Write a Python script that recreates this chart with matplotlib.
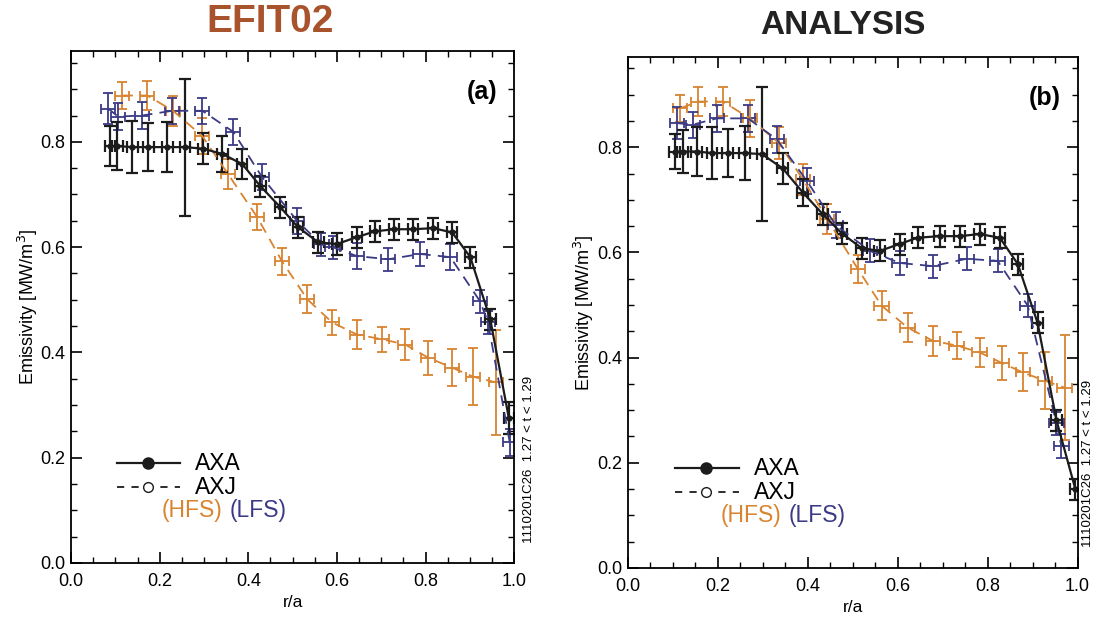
import matplotlib
matplotlib.use("Agg")
import matplotlib.pyplot as plt
from matplotlib.ticker import MultipleLocator
from matplotlib.lines import Line2D

plt.rcParams['font.family'] = ['Liberation Sans', 'DejaVu Sans']

BLACK = '#1c1c1c'
BLUE = '#3b3a85'
ORANGE = '#d88430'

# ---- panel (a) EFIT02 ----
a_axa_x = [0.088, 0.104, 0.138, 0.174, 0.217, 0.257, 0.298, 0.341, 0.386, 0.427, 0.472, 0.512,
           0.558, 0.600, 0.645, 0.686, 0.729, 0.772, 0.817, 0.860, 0.901, 0.946, 0.988]
a_axa_y = [0.792, 0.792, 0.790, 0.790, 0.790, 0.790, 0.787, 0.777, 0.758, 0.716, 0.676, 0.638,
           0.609, 0.606, 0.619, 0.630, 0.634, 0.634, 0.636, 0.628, 0.581, 0.463, 0.275]
a_axa_err = [0.038, 0.045, 0.050, 0.045, 0.048, 0.130, 0.030, 0.035, 0.028, 0.020, 0.020, 0.020,
             0.020, 0.020, 0.020, 0.020, 0.020, 0.020, 0.020, 0.020, 0.020, 0.020, 0.030]

a_lfs_x = [0.084, 0.106, 0.160, 0.228, 0.296, 0.366, 0.431, 0.510, 0.565, 0.590, 0.645, 0.716,
           0.788, 0.856, 0.923, 0.941, 0.990]
a_lfs_y = [0.863, 0.848, 0.850, 0.859, 0.859, 0.819, 0.733, 0.650, 0.605, 0.600, 0.583, 0.577,
           0.587, 0.581, 0.497, 0.457, 0.229]
a_lfs_err = [0.030, 0.025, 0.025, 0.025, 0.025, 0.025, 0.025, 0.025, 0.022, 0.022, 0.025, 0.022,
             0.022, 0.025, 0.022, 0.022, 0.025]

a_hfs_x = [0.115, 0.172, 0.230, 0.296, 0.354, 0.420, 0.476, 0.533, 0.589, 0.645, 0.702, 0.754,
           0.806, 0.860, 0.907, 0.959]
a_hfs_y = [0.888, 0.888, 0.859, 0.811, 0.739, 0.657, 0.573, 0.501, 0.457, 0.434, 0.425, 0.415,
           0.390, 0.371, 0.354, 0.343]
a_hfs_err = [0.025, 0.027, 0.029, 0.035, 0.029, 0.025, 0.025, 0.027, 0.024, 0.027, 0.024, 0.029,
             0.032, 0.035, 0.054, 0.100]

# ---- panel (b) ANALYSIS ----
b_axa_x = [0.104, 0.122, 0.153, 0.187, 0.222, 0.260, 0.298, 0.344, 0.389, 0.433, 0.476, 0.520,
           0.560, 0.604, 0.644, 0.693, 0.738, 0.782, 0.827, 0.867, 0.911, 0.953, 0.995]
b_axa_y = [0.792, 0.792, 0.792, 0.789, 0.789, 0.789, 0.787, 0.760, 0.714, 0.673, 0.636, 0.608,
           0.603, 0.616, 0.628, 0.631, 0.631, 0.635, 0.628, 0.578, 0.466, 0.281, 0.150]
b_axa_err = [0.033, 0.040, 0.047, 0.050, 0.045, 0.052, 0.128, 0.030, 0.025, 0.020, 0.020, 0.020,
             0.020, 0.020, 0.020, 0.020, 0.020, 0.020, 0.020, 0.020, 0.020, 0.020, 0.020]

b_lfs_x = [0.109, 0.144, 0.198, 0.267, 0.331, 0.398, 0.462, 0.538, 0.604, 0.678, 0.753, 0.822,
           0.889, 0.953, 0.964]
b_lfs_y = [0.846, 0.843, 0.855, 0.855, 0.815, 0.736, 0.652, 0.603, 0.580, 0.574, 0.588, 0.584,
           0.499, 0.275, 0.232]
b_lfs_err = [0.030, 0.025, 0.025, 0.025, 0.025, 0.025, 0.025, 0.022, 0.022, 0.022, 0.022, 0.022,
             0.022, 0.022, 0.022]

b_hfs_x = [0.116, 0.156, 0.211, 0.271, 0.336, 0.389, 0.443, 0.511, 0.564, 0.622, 0.678, 0.731,
           0.782, 0.831, 0.878, 0.927, 0.971]
b_hfs_y = [0.874, 0.887, 0.887, 0.855, 0.808, 0.739, 0.664, 0.569, 0.499, 0.457, 0.432, 0.423,
           0.410, 0.390, 0.372, 0.356, 0.343]
b_hfs_err = [0.025, 0.027, 0.027, 0.035, 0.030, 0.030, 0.028, 0.027, 0.027, 0.027, 0.028, 0.025,
             0.028, 0.032, 0.036, 0.054, 0.100]

side_note = "1110201C26  1.27 < t < 1.29"


def panel(ax, tag, axa, lfs, hfs, note_x):
    ax.errorbar(hfs[0], hfs[1], yerr=hfs[2], xerr=0.016, color=ORANGE, ls=(0, (6, 4)),
                lw=1.3, elinewidth=1.3, capsize=3.5, capthick=1.3)
    ax.errorbar(lfs[0], lfs[1], yerr=lfs[2], xerr=0.016, color=BLUE, ls=(0, (6, 4)),
                lw=1.3, elinewidth=1.3, capsize=3.5, capthick=1.3)
    ax.errorbar(axa[0], axa[1], yerr=axa[2], xerr=0.012, color=BLACK, ls='-', lw=1.6,
                marker='o', ms=3.5, elinewidth=1.6, capsize=4, capthick=1.6)

    ax.set_xlim(0, 1.0)
    ax.set_ylim(0, 0.972)
    ax.xaxis.set_major_locator(MultipleLocator(0.2))
    ax.xaxis.set_minor_locator(MultipleLocator(0.05))
    ax.yaxis.set_major_locator(MultipleLocator(0.2))
    ax.yaxis.set_minor_locator(MultipleLocator(0.05))
    ax.tick_params(which='both', direction='in', top=True, right=True, labelsize=13)
    ax.tick_params(axis='x', which='major', pad=7)
    ax.tick_params(axis='y', which='major', pad=4)
    ax.tick_params(which='major', length=8, width=1.2)
    ax.tick_params(which='minor', length=4, width=1.0)
    for s in ax.spines.values():
        s.set_linewidth(1.3)
    ax.xaxis.set_major_formatter(lambda v, p: f"{v:.1f}")
    ax.yaxis.set_major_formatter(lambda v, p: f"{v:.1f}")

    ax.set_xlabel("r/a", fontsize=12.5, labelpad=4)
    ax.set_ylabel("Emissivity [MW/m$^3$]", fontsize=13)
    ax.yaxis.set_label_coords(-0.07, 0.5)
    ax.text(0.963, 0.92, tag, transform=ax.transAxes, ha='right', va='center',
            fontsize=18, fontweight='bold')
    ax.text(note_x, 0.04, side_note, transform=ax.transAxes, rotation=90, ha='center',
            va='bottom', fontsize=9.5)

    # legend drawn by hand
    t = ax.transAxes
    ax.add_line(Line2D([0.104, 0.246], [0.195, 0.195], transform=t, color=BLACK, lw=1.6))
    ax.add_line(Line2D([0.174], [0.195], transform=t, color=BLACK, marker='o', ms=8))
    ax.add_line(Line2D([0.104, 0.246], [0.148, 0.148], transform=t, color=BLACK, lw=1.3,
                       ls=(0, (4, 4))))
    ax.add_line(Line2D([0.174], [0.148], transform=t, color=BLACK, marker='o', ms=7,
                       mfc='white', mew=1.0))
    ax.text(0.28, 0.195, "AXA", transform=t, va='center', fontsize=16.5)
    ax.text(0.28, 0.148, "AXJ", transform=t, va='center', fontsize=16.5)
    ax.text(0.205, 0.102, "(HFS)", transform=t, va='center', fontsize=16.5, color=ORANGE)
    ax.text(0.358, 0.102, "(LFS)", transform=t, va='center', fontsize=16.5, color=BLUE)


fig = plt.figure(figsize=(10.94, 6.18), dpi=100)
ax1 = fig.add_axes([0.065, 0.089, 0.405, 0.828])
ax2 = fig.add_axes([0.574, 0.081, 0.411, 0.827])

panel(ax1, "(a)", (a_axa_x, a_axa_y, a_axa_err), (a_lfs_x, a_lfs_y, a_lfs_err),
      (a_hfs_x, a_hfs_y, a_hfs_err), 1.034)
panel(ax2, "(b)", (b_axa_x, b_axa_y, b_axa_err), (b_lfs_x, b_lfs_y, b_lfs_err),
      (b_hfs_x, b_hfs_y, b_hfs_err), 1.023)

fig.text(270 / 1094, 1 - 22 / 618, "EFIT02", ha='center', va='center', fontsize=28,
         fontweight='bold', color='#a8532b')
fig.text(843 / 1094, 1 - 25 / 618, "ANALYSIS", ha='center', va='center', fontsize=24,
         fontweight='bold', color='#222222')

fig.savefig("out.png", dpi=100)
